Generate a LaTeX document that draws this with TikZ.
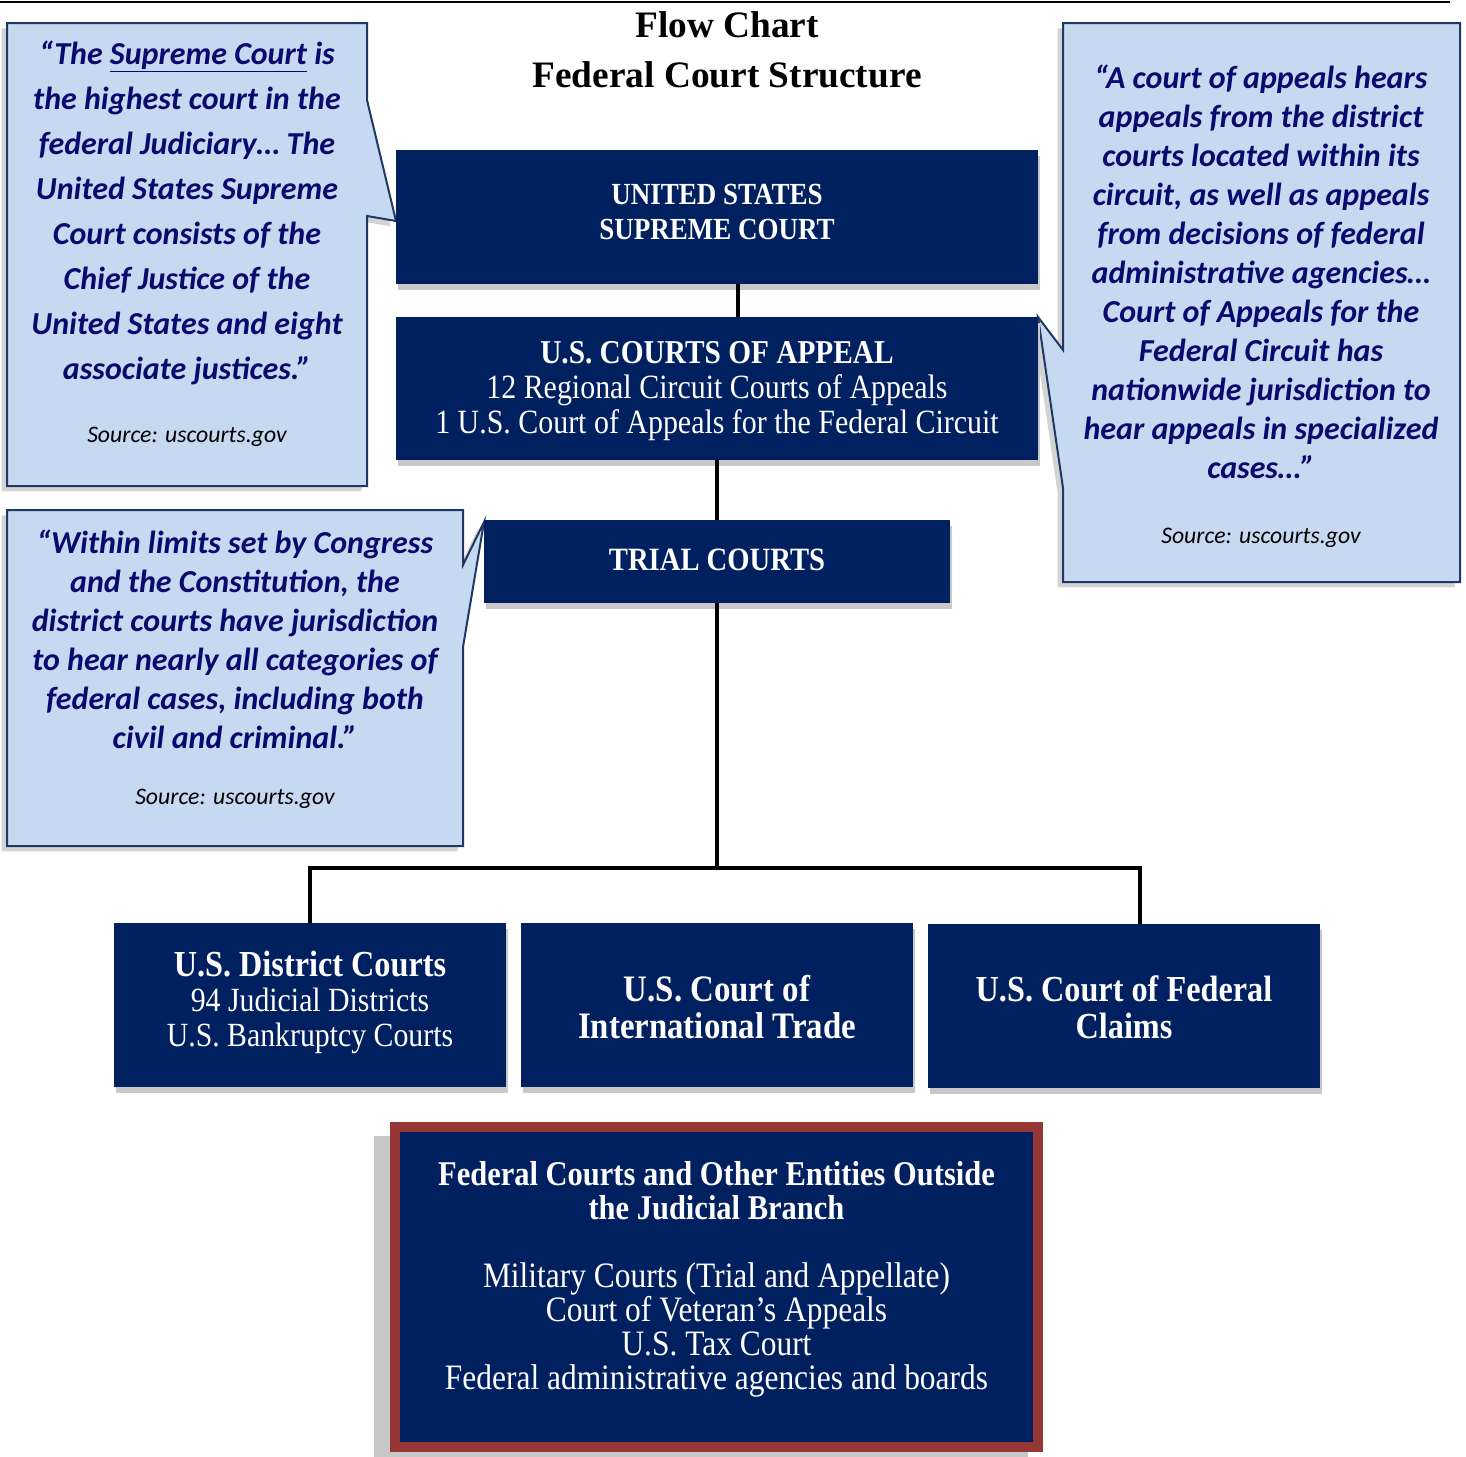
\documentclass[tikz,border=0pt]{standalone}
\usepackage{fontspec}
\setmainfont{Liberation Serif}
\newfontfamily\boxfont[FakeStretch=0.88]{Liberation Serif}
\newfontfamily\callfont{Carlito}
\definecolor{navy}{RGB}{0,32,96}
\definecolor{callfill}{RGB}{198,217,241}
\definecolor{callline}{RGB}{31,56,100}
\definecolor{calltext}{RGB}{10,10,110}
\definecolor{redframe}{RGB}{149,55,53}
\definecolor{shadowgrey}{RGB}{200,200,200}
\tikzset{
  court/.style={fill=navy, inner sep=0pt,
    preaction={fill=shadowgrey, transform canvas={xshift=1.5pt, yshift=-4.5pt}}},
  courttext/.style={text=white, inner sep=0pt, align=center},
  callout/.style={fill=callfill, draw=callline, line width=1.5pt, line join=miter,
    preaction={fill=shadowgrey, opacity=0.8, transform canvas={xshift=-4pt, yshift=-4pt}}},
  calltext/.style={text=calltext, align=center, inner sep=0pt},
  srctext/.style={text=black, inner sep=0pt, font=\callfont\itshape\fontsize{17.8}{21}\selectfont},
  link/.style={line width=3pt, black},
}
\begin{document}
\begin{tikzpicture}[x=0.75pt, y=-0.75pt]
\useasboundingbox (0,0) rectangle (1466,1456);
% top rule
\draw[line width=2pt] (0,2) -- (1450,2);
% title
\node[align=center, inner sep=0pt, font=\bfseries\fontsize{28}{37.5}\selectfont] (title) at (727,50) {Flow Chart\\Federal Court Structure};

% callouts
\path[callout] (7,23) -- (367,23) -- (367,100) -- (396,221) -- (367,216) -- (367,486) -- (7,486) -- cycle;
\path[callout] (1063,23) -- (1460,23) -- (1460,582) -- (1063,582) -- (1063,488) -- (1038,317) -- (1063,350) -- cycle;
\path[callout] (7,510) -- (463,510) -- (463,565) -- (484,522) -- (463,647) -- (463,846) -- (7,846) -- cycle;

\node[calltext, font=\callfont\bfseries\itshape\fontsize{24}{33.75}\selectfont] (q1) at (187,213)
  {“The \underline{Supreme Court} is\\the highest court in the\\federal Judiciary… The\\United States Supreme\\Court consists of the\\Chief Justice of the\\United States and eight\\associate justices.”};
\node[srctext] (s1) at (187,437) {Source: uscourts.gov};

\node[calltext, font=\callfont\bfseries\itshape\fontsize{24}{29.25}\selectfont] (q2) at (1261,271.5)
  {“A court of appeals hears\\appeals from the district\\courts located within its\\circuit, as well as appeals\\from decisions of federal\\administrative agencies…\\Court of Appeals for the\\Federal Circuit has\\nationwide jurisdiction to\\hear appeals in specialized\\cases…”};
\node[srctext] (s2) at (1261,538) {Source: uscourts.gov};

\node[calltext, font=\callfont\bfseries\itshape\fontsize{24}{29.25}\selectfont] (q3) at (235,639)
  {“Within limits set by Congress\\and the Constitution, the\\district courts have jurisdiction\\to hear nearly all categories of\\federal cases, including both\\civil and criminal.”};
\node[srctext] (s3) at (235,799) {Source: uscourts.gov};

% court boxes
\node[court, minimum width=481.5pt, minimum height=100.5pt] (sup) at (717,217) {};
\node[courttext, font=\boxfont\bfseries\fontsize{23}{26.25}\selectfont] (supt) at (717,211.5)
  {UNITED STATES\\SUPREME COURT};
\node[court, minimum width=481.5pt, minimum height=107.25pt] (app) at (717,388.5) {};
\node[courttext, font=\boxfont\fontsize{25.5}{26.25}\selectfont] (appt) at (717,391.5)
  {{\bfseries\fontsize{25}{26.25}\selectfont U.S. COURTS OF APPEAL}\\12 Regional Circuit Courts of Appeals\\1 U.S. Court of Appeals for the Federal Circuit};
\node[court, minimum width=349.5pt, minimum height=62.25pt] (trial) at (717,561.5) {};
\node[courttext, font=\boxfont\bfseries\fontsize{24.4}{26.25}\selectfont] (trialt) at (717,560)
  {TRIAL COURTS};
\node[court, minimum width=294pt, minimum height=123pt] (dist) at (310,1005) {};
\node[courttext, font=\boxfont\fontsize{25.4}{26.25}\selectfont] (distt) at (310,1002)
  {{\bfseries\fontsize{27.5}{26.25}\selectfont U.S. District Courts}\\94 Judicial Districts\\U.S. Bankruptcy Courts};
\node[court, minimum width=294pt, minimum height=123pt] (intl) at (717,1005) {};
\node[courttext, font=\boxfont\bfseries\fontsize{28}{27.75}\selectfont] (intlt) at (717,1007.5)
  {U.S. Court of\\International Trade};
\node[court, minimum width=294pt, minimum height=123pt] (claims) at (1124,1006) {};
\node[courttext, font=\boxfont\bfseries\fontsize{27.5}{27.75}\selectfont] (claimst) at (1124,1007.5)
  {U.S. Court of Federal\\Claims};

% outside box
\fill[shadowgrey] (374,1136) rectangle (1028,1470);
\node[fill=navy, draw=redframe, line width=7.5pt, inner sep=0pt,
  minimum width=482.25pt, minimum height=240pt] (outside) at (716.5,1287) {};
\node[courttext, font=\boxfont\fontsize{26.8}{25.5}\selectfont] (outsidet) at (716.5,1279)
  {{\bfseries\fontsize{26}{25.5}\selectfont Federal Courts and Other Entities Outside}\\{\bfseries\fontsize{26}{25.5}\selectfont the Judicial Branch}\\[25.5pt]Military Courts (Trial and Appellate)\\Court of Veteran’s Appeals\\U.S. Tax Court\\Federal administrative agencies and boards};

% connectors
\coordinate (j) at (717,868);
\draw[link] ([xshift=15.75pt]sup.south) -- ([xshift=15.75pt]sup.south |- app.north);
\draw[link] (app.south) -- (trial.north);
\draw[link] (trial.south) -- (j);
\draw[link, line join=miter] (dist.north) |- (j) -| ([xshift=12pt]claims.north);
\end{tikzpicture}
\end{document}
